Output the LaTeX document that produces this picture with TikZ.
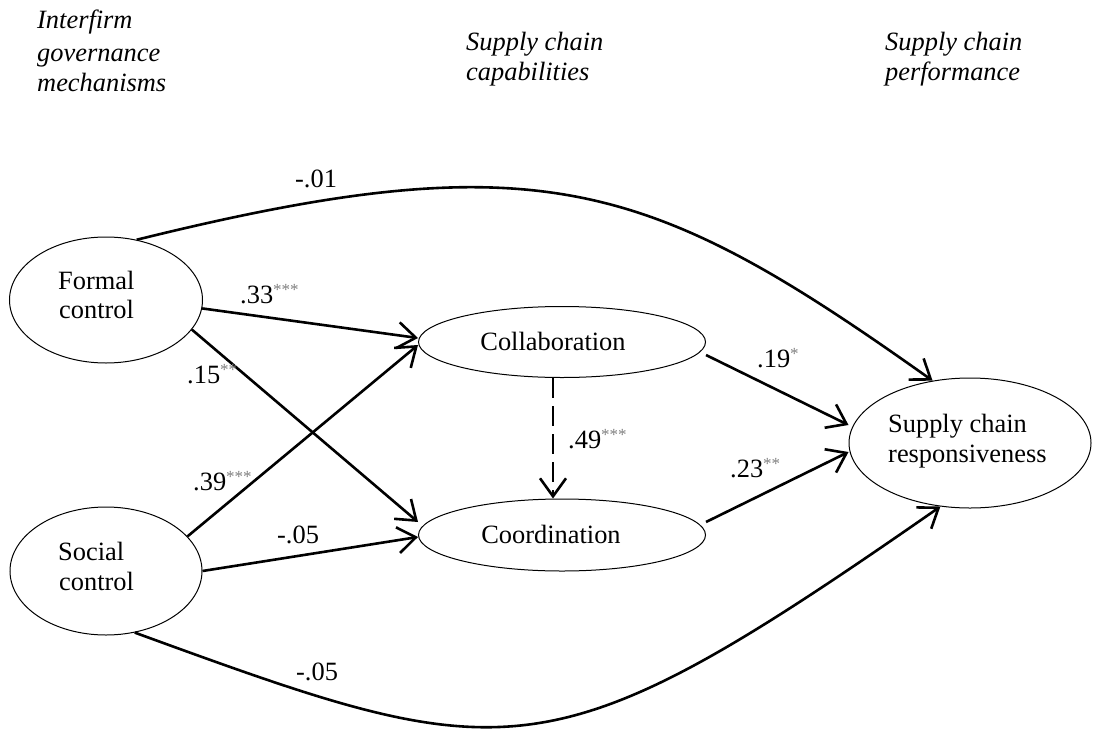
\documentclass[tikz,border=0pt]{standalone}
\usepackage{fontspec}
\setmainfont{Liberation Serif}
\usetikzlibrary{arrows.meta,shapes.geometric}
\definecolor{stargray}{RGB}{128,128,128}
\newcommand{\sigstars}[1]{{\color{stargray}\fontsize{17}{17}\selectfont\raisebox{8pt}{#1}}}
\begin{document}
\begin{tikzpicture}[x=1pt,y=-1pt,
  lat/.style={draw, ellipse, line width=1pt, inner sep=0pt},
  pth/.style={line width=2.6pt, -{Straight Barb[length=18pt,width=26pt]}},
  txt/.style={font=\fontsize{26.4}{30}\selectfont, inner sep=0pt, anchor=base west},
  hdr/.style={font=\fontsize{26.4}{30}\selectfont\itshape, inner sep=0pt, anchor=base west},
  ctxt/.style={font=\fontsize{26.4}{30}\selectfont, inner sep=0pt, anchor=base}]
\useasboundingbox (0,0) rectangle (1094,728);
% headers
\node[hdr] (h1a) at (37,28) {Interfirm};
\node[hdr] (h1b) at (37,61) {governance};
\node[hdr] (h1c) at (37,91) {mechanisms};
\node[hdr] (h2a) at (466,50) {Supply chain};
\node[hdr] (h2b) at (466,80) {capabilities};
\node[hdr] (h3a) at (885,50) {Supply chain};
\node[hdr] (h3b) at (885,80) {performance};
% latent variables
\node[lat, minimum width=193pt, minimum height=126pt] (fc) at (106,300) {};
\node[lat, minimum width=192pt, minimum height=128pt] (sc) at (106,571) {};
\node[lat, minimum width=287pt, minimum height=71pt] (col) at (562,342) {};
\node[lat, minimum width=287pt, minimum height=72pt] (coo) at (562,535) {};
\node[lat, minimum width=242pt, minimum height=130pt] (scr) at (970,443) {};
% texts in ellipses
\node[txt] (t1) at (58,289) {Formal};
\node[txt] (t2) at (59,318) {control};
\node[txt] (t3) at (58,560) {Social};
\node[txt] (t4) at (59,590) {control};
\node[ctxt] (t5) at (553,350) {Collaboration};
\node[ctxt] (t6) at (551,543) {Coordination};
\node[txt] (t7) at (888,432) {Supply chain};
\node[txt] (t8) at (888,462) {responsiveness};
% paths
\draw[pth] (fc.-5) -- ([yshift=4pt]col.west);
\draw[pth] (fc.-19) -- ([yshift=13pt]coo.west);
\draw[pth] (sc.23) -- ([yshift=-3pt]col.west);
\draw[pth] (sc.east) -- ([yshift=-2pt]coo.west);
\draw[pth] ([yshift=-13pt]col.east) -- ([yshift=18pt]scr.west);
\draw[pth] ([yshift=13pt]coo.east) -- ([yshift=-9pt]scr.west);
\draw[pth, dash pattern=on 20pt off 8pt] ([xshift=-9pt]col.south) -- ([xshift=-9pt]coo.north);
\draw[pth] (fc.63) .. controls (540,140) and (650,180) .. (scr.121);
\draw[pth] (sc.-65) .. controls (512,770) and (546,781) .. (scr.-115);
% coefficients
\node[txt] (c1) at (295,187) {-.01};
\node[txt] (c2) at (240,303) {.33\sigstars{***}};
\node[txt] (c3) at (187,383) {.15\sigstars{**}};
\node[txt] (c4) at (193,490) {.39\sigstars{***}};
\node[txt] (c5) at (277,543) {-.05};
\node[txt] (c6) at (568,448) {.49\sigstars{***}};
\node[txt] (c7) at (757,367) {.19\sigstars{*}};
\node[txt] (c8) at (730,477) {.23\sigstars{**}};
\node[txt] (c9) at (296,680) {-.05};
\end{tikzpicture}
\end{document}
